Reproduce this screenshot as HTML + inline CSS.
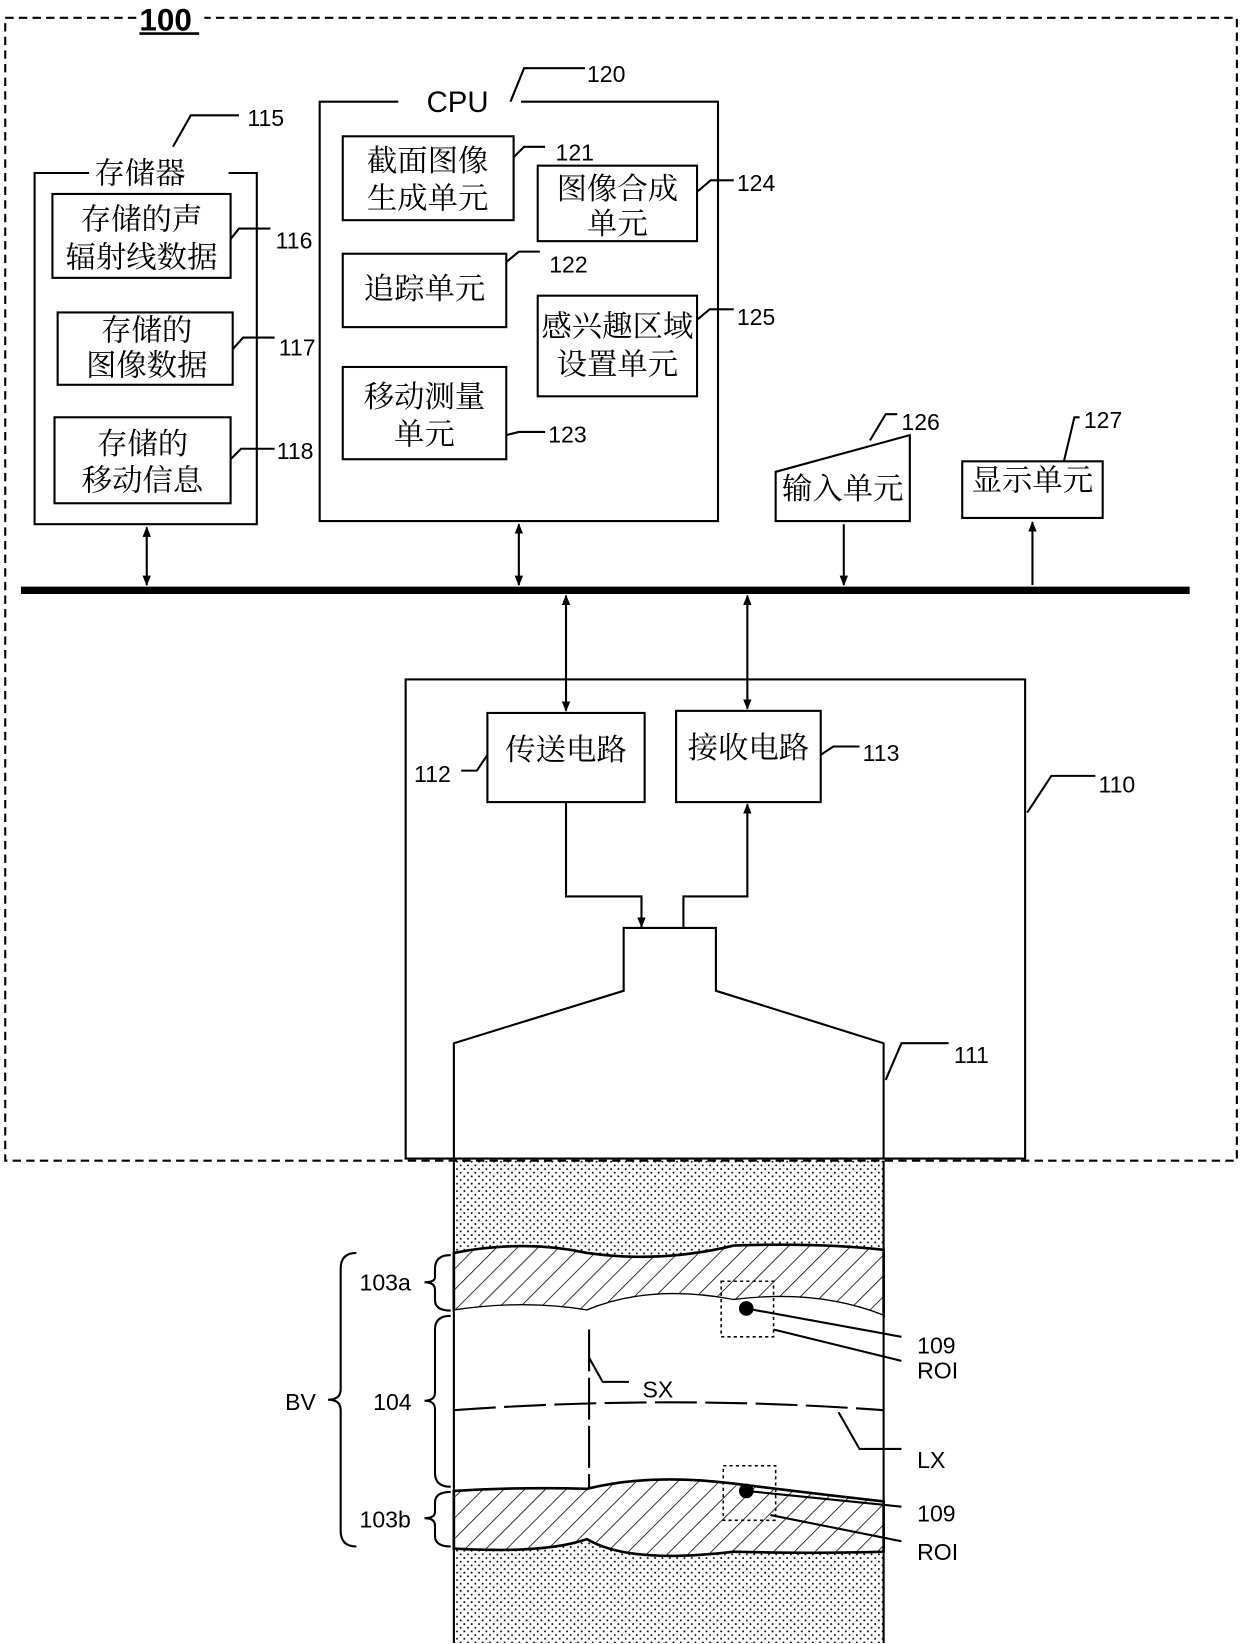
<!DOCTYPE html>
<html><head><meta charset="utf-8"><style>
html,body{margin:0;padding:0;background:#fff}
svg{display:block}
text{font-family:"Liberation Sans","Noto Serif CJK SC","Noto Sans CJK SC",sans-serif;fill:#000}
.cj{font-family:"Noto Serif CJK SC","Noto Sans CJK SC",serif;font-size:29px}
.n{font-size:22px}
</style></head><body>
<svg width="1240" height="1644" viewBox="0 0 1183 1568" preserveAspectRatio="none" xmlns="http://www.w3.org/2000/svg">
<defs>
<pattern id="dots" width="7" height="7" patternUnits="userSpaceOnUse"><circle cx="2" cy="2" r="0.9" fill="#000"/><circle cx="5.5" cy="5.5" r="0.9" fill="#000"/></pattern>
<pattern id="hatch" width="14" height="14" patternUnits="userSpaceOnUse" patternTransform="rotate(45)"><rect width="14" height="14" fill="#fff"/><line x1="0" y1="0" x2="0" y2="14" stroke="#000" stroke-width="1.5"/></pattern>
<marker id="ah" markerWidth="10" markerHeight="10" refX="9" refY="5" orient="auto-start-reverse" markerUnits="userSpaceOnUse"><path d="M0,1 L10,5 L0,9 z" fill="#000"/></marker>
</defs>
<g fill="none" stroke="#000" stroke-width="2">
<path d="M130,17 L5,17 L5,1107 L1180,1107 L1180,17 L195,17" stroke-dasharray="8,5"/>
<line x1="133" y1="32" x2="190" y2="32" stroke-width="2.5"/>
<path d="M85,165 L33,165 L33,500 L245,500 L245,165 L218,165"/>
<rect x="50" y="185" width="170" height="80"/>
<rect x="55" y="298" width="167" height="69"/>
<rect x="52" y="398" width="168" height="82"/>
<path d="M165,140 L182,110 L228,110"/>
<path d="M220,228 L228,218 L258,218"/>
<path d="M222,333 L232,322 L262,322"/>
<path d="M220,438 L230,428 L262,428"/>
<path d="M380,97 L305,97 L305,497 L685,497 L685,97 L497,97"/>
<path d="M487,97 L500,65 L558,65"/>
<rect x="327" y="130" width="163" height="80"/>
<rect x="513" y="158" width="152" height="72"/>
<rect x="327" y="242" width="156" height="70"/>
<rect x="513" y="282" width="152" height="96"/>
<rect x="327" y="350" width="156" height="88"/>
<path d="M490,150 L500,140 L520,140"/>
<path d="M665,183 L678,172 L700,172"/>
<path d="M483,250 L495,240 L515,240"/>
<path d="M665,305 L677,295 L700,295"/>
<path d="M483,415 L495,412 L520,412"/>
<path d="M740,450 L740,497 L868,497 L868,415 Z"/>
<path d="M830,420 L845,395 L856,395"/>
<rect x="918" y="440" width="134" height="54"/>
<path d="M1015,440 L1025,398 L1030,398"/>
<line x1="20" y1="563" x2="1135" y2="563" stroke-width="7"/>
<line x1="140" y1="503" x2="140" y2="558" marker-start="url(#ah)" marker-end="url(#ah)"/>
<line x1="495" y1="500" x2="495" y2="558" marker-start="url(#ah)" marker-end="url(#ah)"/>
<line x1="805" y1="500" x2="805" y2="558" marker-end="url(#ah)"/>
<line x1="985" y1="558" x2="985" y2="498" marker-end="url(#ah)"/>
<line x1="540" y1="568" x2="540" y2="678" marker-start="url(#ah)" marker-end="url(#ah)"/>
<line x1="713" y1="568" x2="713" y2="676" marker-start="url(#ah)" marker-end="url(#ah)"/>
<rect x="387" y="648" width="591" height="457"/>
<path d="M980,775 L1003,740 L1045,740"/>
<rect x="465" y="680" width="150" height="85"/>
<rect x="645" y="678" width="138" height="87"/>
<path d="M465,720 L455,735 L440,735"/>
<path d="M783,720 L795,712 L820,712"/>
<path d="M540,765 L540,855 L612,855 L612,884" marker-end="url(#ah)"/>
<path d="M652,885 L652,855 L713,855 L713,767" marker-end="url(#ah)"/>
<path d="M433,1105 L433,995 L595,945 L595,885 L683,885 L683,945 L843,995 L843,1105"/>
<path d="M845,1030 L860,995 L905,995"/>
</g>
<rect x="433" y="1107" width="410" height="460" fill="url(#dots)"/>
<path d="M433,1195 Q500,1182 560,1195 Q630,1205 700,1188 Q780,1185 843,1192 L843,1255 Q780,1230 700,1240 Q620,1225 560,1250 Q500,1240 433,1250 Z" fill="url(#hatch)" stroke="#000" stroke-width="2.5"/>
<path d="M433,1250 Q500,1240 560,1250 Q620,1225 700,1240 Q780,1230 843,1255 L843,1432 Q780,1425 700,1415 Q620,1405 560,1420 Q500,1418 433,1422 Z" fill="#fff"/>
<path d="M433,1422 Q500,1418 560,1420 Q620,1405 700,1415 Q780,1425 843,1432 L843,1480 Q780,1482 700,1480 Q600,1492 560,1468 Q520,1482 433,1477 Z" fill="url(#hatch)" stroke="#000" stroke-width="2.5"/>
<g fill="none" stroke="#000" stroke-width="2">
<line x1="433" y1="1107" x2="433" y2="1567"/><line x1="843" y1="1107" x2="843" y2="1567"/>
<path d="M562,1268 L562,1420" stroke-dasharray="40,6"/>
<path d="M562,1295 L575,1318 L600,1318"/>
<path d="M433,1345 Q640,1330 843,1345" stroke-dasharray="40,8"/>
<path d="M800,1347 L820,1382 L860,1382"/>
<rect x="688" y="1222" width="50" height="53" stroke-dasharray="3,3" stroke-width="1.5"/>
<rect x="690" y="1398" width="50" height="52" stroke-dasharray="3,3" stroke-width="1.5"/>
<path d="M712,1248 L860,1275"/><path d="M738,1268 L860,1298"/>
<path d="M712,1422 L860,1437"/><path d="M735,1445 L860,1470"/>
<path d="M430,1197 Q415,1197 415,1210 L415,1218 Q415,1223 405,1223 Q415,1223 415,1230 L415,1240 Q415,1250 430,1250"/>
<path d="M430,1255 Q415,1255 415,1268 L415,1328 Q415,1336 405,1336 Q415,1336 415,1344 L415,1405 Q415,1418 430,1418"/>
<path d="M430,1423 Q415,1423 415,1433 L415,1442 Q415,1448 405,1448 Q415,1448 415,1455 L415,1465 Q415,1475 430,1475"/>
<path d="M340,1195 Q325,1195 325,1210 L325,1325 Q325,1335 313,1335 Q325,1335 325,1345 L325,1460 Q325,1475 340,1475"/>
</g>
<circle cx="712" cy="1248" r="7"/><circle cx="712" cy="1422" r="7"/>
<text x="133" y="29" font-size="30" font-weight="bold">100</text>
<text x="90" y="175" class="cj">存储器</text>
<text x="236" y="120" class="n">115</text>
<text x="135" y="219" class="cj" text-anchor="middle">存储的声</text>
<text x="135" y="255" class="cj" text-anchor="middle">辐射线数据</text>
<text x="140" y="325" class="cj" text-anchor="middle">存储的</text>
<text x="140" y="358" class="cj" text-anchor="middle">图像数据</text>
<text x="136" y="433" class="cj" text-anchor="middle">存储的</text>
<text x="136" y="468" class="cj" text-anchor="middle">移动信息</text>
<text x="263" y="237" class="n">116</text>
<text x="266" y="339" class="n">117</text>
<text x="264" y="438" class="n">118</text>
<text x="407" y="107" font-size="28">CPU</text>
<text x="560" y="78" class="n">120</text>
<text x="408" y="163" class="cj" text-anchor="middle">截面图像</text>
<text x="408" y="199" class="cj" text-anchor="middle">生成单元</text>
<text x="589" y="190" class="cj" text-anchor="middle">图像合成</text>
<text x="589" y="223" class="cj" text-anchor="middle">单元</text>
<text x="405" y="285" class="cj" text-anchor="middle">追踪单元</text>
<text x="589" y="321" class="cj" text-anchor="middle">感兴趣区域</text>
<text x="589" y="357" class="cj" text-anchor="middle">设置单元</text>
<text x="405" y="388" class="cj" text-anchor="middle">移动测量</text>
<text x="405" y="424" class="cj" text-anchor="middle">单元</text>
<text x="530" y="153" class="n">121</text>
<text x="524" y="260" class="n">122</text>
<text x="523" y="422" class="n">123</text>
<text x="703" y="182" class="n">124</text>
<text x="703" y="310" class="n">125</text>
<text x="804" y="476" class="cj" text-anchor="middle">输入单元</text>
<text x="985" y="468" class="cj" text-anchor="middle">显示单元</text>
<text x="860" y="410" class="n">126</text>
<text x="1034" y="408" class="n">127</text>
<text x="540" y="725" class="cj" text-anchor="middle">传送电路</text>
<text x="714" y="723" class="cj" text-anchor="middle">接收电路</text>
<text x="395" y="746" class="n">112</text>
<text x="823" y="726" class="n">113</text>
<text x="1048" y="756" class="n">110</text>
<text x="910" y="1014" class="n">111</text>
<text x="343" y="1231" class="n">103a</text>
<text x="356" y="1345" class="n">104</text>
<text x="343" y="1457" class="n">103b</text>
<text x="272" y="1345" class="n">BV</text>
<text x="613" y="1333" class="n">SX</text>
<text x="875" y="1291" class="n">109</text>
<text x="875" y="1315" class="n">ROI</text>
<text x="875" y="1400" class="n">LX</text>
<text x="875" y="1451" class="n">109</text>
<text x="875" y="1488" class="n">ROI</text>
</svg>
</body></html>
